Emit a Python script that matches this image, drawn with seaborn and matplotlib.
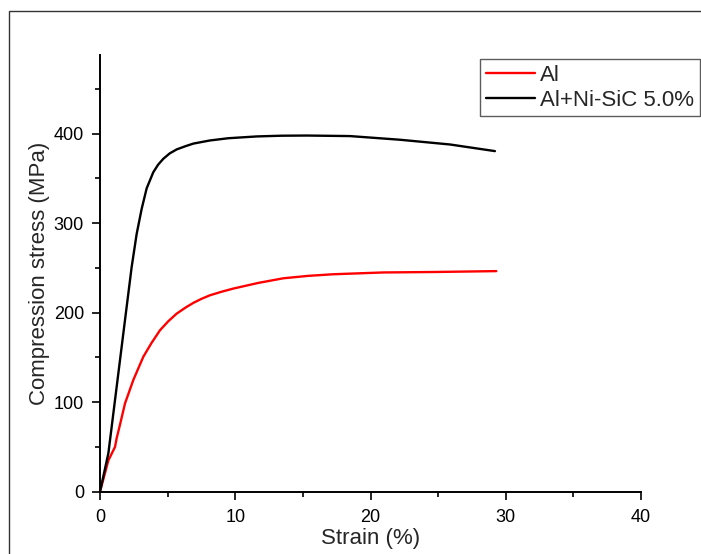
import numpy as np
import pandas as pd
import matplotlib
matplotlib.use("Agg")
import matplotlib.pyplot as plt
from matplotlib.patches import Rectangle
from matplotlib.ticker import MultipleLocator
import seaborn as sns

# ---- data ----
al_strain = [0, 0.62, 1.11, 1.23, 1.48, 1.85, 2.46, 3.2, 3.8, 4.44, 5.05, 5.67,
             6.3, 6.9, 7.5, 8.13, 9.0, 9.86, 11.7, 13.56, 15.4, 17.25, 20.95,
             24.64, 29.3]
al_stress = [0, 35, 50, 59.6, 75, 98.7, 124.7, 150.7, 166, 180.5, 190.5, 199,
             205.5, 211, 215.5, 219.5, 223.5, 227, 233.3, 238.5, 241.2, 243,
             245, 245.5, 246.5]

comp_strain = [0, 0.62, 1.23, 1.85, 2.34, 2.71, 3.08, 3.45, 3.94, 4.3, 4.68,
               5.15, 5.67, 6.3, 6.9, 8.13, 9.49, 11.59, 13.4, 15.28, 18.48,
               22.18, 25.88, 29.2]
comp_stress = [0, 43, 117, 192, 251, 288, 316, 339, 357, 365.5, 372,
               378, 382.5, 386, 389, 392.5, 395, 397, 397.8, 398, 397.4,
               393.3, 388, 380.6]

series_names = ["Al", "Al+Ni-SiC 5.0%"]
series_colors = ["#ff0000", "#000000"]

x_ticks = [0, 10, 20, 30, 40]
y_ticks = [0, 100, 200, 300, 400]

df = pd.concat([
    pd.DataFrame({"strain": al_strain, "stress": al_stress, "series": series_names[0]}),
    pd.DataFrame({"strain": comp_strain, "stress": comp_stress, "series": series_names[1]}),
], ignore_index=True)

sns.set_theme(style="white")
plt.rcParams["font.family"] = ["Liberation Sans", "DejaVu Sans"]

fig = plt.figure(figsize=(7.01, 5.54), dpi=100)
ax = fig.add_axes([100 / 701, 1 - 491.7 / 554, 541 / 701, (491.7 - 55) / 554])

sns.lineplot(data=df, x="strain", y="stress", hue="series", hue_order=series_names,
             palette=dict(zip(series_names, series_colors)), sort=False,
             estimator=None, linewidth=1.7, ax=ax, legend=True)

ax.set_xlim(0, 40)
ax.set_ylim(0, 488)
ax.set_xticks(x_ticks)
ax.set_yticks(y_ticks)
ax.xaxis.set_minor_locator(MultipleLocator(5))
ax.yaxis.set_minor_locator(MultipleLocator(50))
ax.tick_params(which="major", direction="out", length=6, width=1.2, labelsize=13,
               colors="black", bottom=True, left=True)
ax.tick_params(axis="x", which="major", pad=6.5)
ax.tick_params(axis="y", which="major", pad=5.5)
ax.tick_params(which="minor", direction="out", length=3.5, width=1.2,
               colors="black", bottom=True, left=True)
for s in ["top", "right"]:
    ax.spines[s].set_visible(False)
for s in ["left", "bottom"]:
    ax.spines[s].set_color("black")
    ax.spines[s].set_linewidth(1.4)

ax.set_xlabel("Strain (%)", fontsize=16, labelpad=1.5)
ax.set_ylabel("Compression stress (MPa)", fontsize=16, labelpad=3)

handles, labels = ax.get_legend_handles_labels()
ax.get_legend().remove()
leg = fig.legend(handles, labels, loc="upper right",
                 bbox_to_anchor=(700 / 701, 1 - 59 / 554), fontsize=16,
                 frameon=True, fancybox=False, borderaxespad=0,
                 handlelength=2.2, handletextpad=0.25, borderpad=0.25,
                 labelspacing=0.18)
leg.get_frame().set_edgecolor("#333333")
leg.get_frame().set_linewidth(1.0)
for ln in leg.get_lines():
    ln.set_linewidth(1.7)

# outer frame around the figure
fig.patches.append(Rectangle((9 / 701, -0.1), 1.2, 1 - 11 / 554 + 0.1,
                             transform=fig.transFigure, fill=False,
                             edgecolor="#333333", linewidth=1.0, zorder=0))

fig.savefig("out.png", dpi=100)
